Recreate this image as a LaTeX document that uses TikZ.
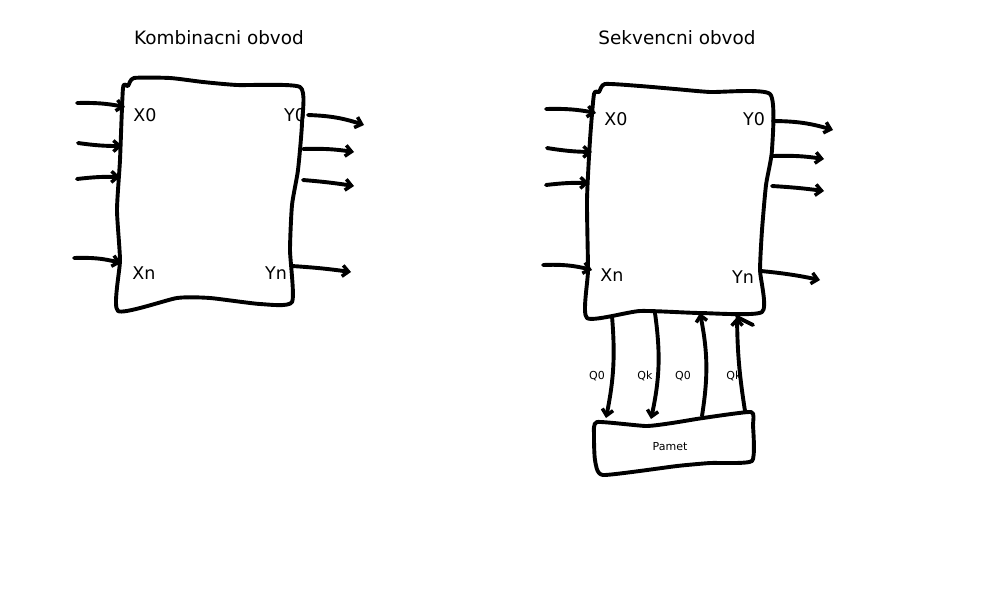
\documentclass[tikz,border=0pt]{standalone}
\usepackage{fontspec}
\setmainfont{DejaVu Sans}
\usetikzlibrary{arrows.meta}
\begin{document}
\begin{tikzpicture}[x=1pt,y=-1pt,
  ink/.style={line width=3.9pt,line cap=round,line join=round},
  arr/.style={ink,-{Straight Barb[length=6pt,width=11pt,line width=3.5pt]}},
  title/.style={font=\fontsize{18.4}{22}\selectfont},
  lbl/.style={font=\fontsize{17.5}{20}\selectfont},
  small/.style={font=\fontsize{11}{12}\selectfont}]
\useasboundingbox (0,0) rectangle (1000,600);

% ---------- Combinational ----------
\node[title] (t1) at (219,38) {Kombinacni obvod};
\draw[ink] plot[smooth cycle,tension=0.35] coordinates {
  (128,86) (134,78) (170,78) (203,82) (237,85) (300,87) (302,123) (298,170)
  (292,205) (290,250) (292,302) (260,304) (210,298) (177,298) (118,311)
  (120,260) (117,210) (120,160) (123,88)};
\node[lbl] (x0a) at (145,115) {X0};
\node[lbl] (xna) at (144,273) {Xn};
\node[lbl] (y0a) at (295,115) {Y0};
\node[lbl] (yna) at (276,273) {Yn};
\coordinate (ai1) at (77,103); \coordinate (ae1) at (125,107);
\coordinate (ai2) at (78,143); \coordinate (ae2) at (122,146);
\coordinate (ai3) at (77,179); \coordinate (ae3) at (120,177);
\coordinate (ai4) at (74,258); \coordinate (ae4) at (121,263);
\draw[arr] (ai1) to[bend left=6] (ae1);
\draw[arr] (ai2) to[bend right=4] (ae2);
\draw[arr] (ai3) to[bend left=4] (ae3);
\draw[arr] (ai4) to[bend left=8] (ae4);
\coordinate (ao1) at (308,115); \coordinate (af1) at (364,125);
\coordinate (ao2) at (303,149); \coordinate (af2) at (354,152);
\coordinate (ao3) at (303,180); \coordinate (af3) at (354,186);
\coordinate (ao4) at (292,266); \coordinate (af4) at (351,272);
\draw[arr] (ao1) to[bend left=8] (af1);
\draw[arr] (ao2) to[bend left=5] (af2);
\draw[arr] (ao3) to[bend left=2] (af3);
\draw[arr] (ao4) to[bend left=2] (af4);

% ---------- Sequential ----------
\node[title] (t2) at (677,38) {Sekvencni obvod};
\draw[ink] plot[smooth cycle,tension=0.35] coordinates {
  (599,92) (605,84) (640,86) (675,89) (710,92) (770,94) (772,150) (766,185)
  (762,230) (760,270) (762,312) (700,313) (640,311) (587,318)
  (588,270) (587,200) (590,140) (594,94)};
\node[lbl] (x0b) at (616,119) {X0};
\node[lbl] (xnb) at (612,275) {Xn};
\node[lbl] (y0b) at (754,119) {Y0};
\node[lbl] (ynb) at (743,277) {Yn};
\coordinate (bi1) at (546,109); \coordinate (be1) at (596,113);
\coordinate (bi2) at (547,148); \coordinate (be2) at (592,152);
\coordinate (bi3) at (546,185); \coordinate (be3) at (589,183);
\coordinate (bi4) at (543,265); \coordinate (be4) at (592,270);
\draw[arr] (bi1) to[bend left=6] (be1);
\draw[arr] (bi2) to[bend right=4] (be2);
\draw[arr] (bi3) to[bend left=4] (be3);
\draw[arr] (bi4) to[bend left=8] (be4);
\coordinate (bo1) at (773,121); \coordinate (bf1) at (833,130);
\coordinate (bo2) at (773,156); \coordinate (bf2) at (824,159);
\coordinate (bo3) at (772,186); \coordinate (bf3) at (824,191);
\coordinate (bo4) at (761,271); \coordinate (bf4) at (820,280);
\draw[arr] (bo1) to[bend left=8] (bf1);
\draw[arr] (bo2) to[bend left=5] (bf2);
\draw[arr] (bo3) to[bend left=2] (bf3);
\draw[arr] (bo4) to[bend left=3] (bf4);

% ---------- Memory ----------
\draw[ink] plot[smooth cycle,tension=0.3] coordinates {
  (597,422) (646,426) (672,423) (703,418) (751,412) (753,425) (752,461)
  (710,463) (677,466) (603,475) (595,460) (594,435)};
\node[small] (pam) at (670,447) {Pamet};
\coordinate (q1s) at (612,316); \coordinate (q1e) at (606,418);
\coordinate (q2s) at (655,313); \coordinate (q2e) at (651,419);
\coordinate (q3s) at (702,416); \coordinate (q3e) at (700,313);
\coordinate (q4s) at (745,411); \coordinate (q4e) at (737,317);
\draw[arr] (q1s) to[bend left=8] (q1e);
\draw[arr] (q2s) to[bend left=10] (q2e);
\draw[arr] (q3s) to[bend right=10] (q3e);
\draw[arr] (q4s) to[bend left=4] (q4e);
\draw[ink] (q4e) -- (753,325);
\node[small] (lq1) at (597,376) {Q0};
\node[small] (lq2) at (645,376) {Qk};
\node[small] (lq3) at (683,376) {Q0};
\node[small] (lq4) at (734,376) {Qk};
\end{tikzpicture}
\end{document}
